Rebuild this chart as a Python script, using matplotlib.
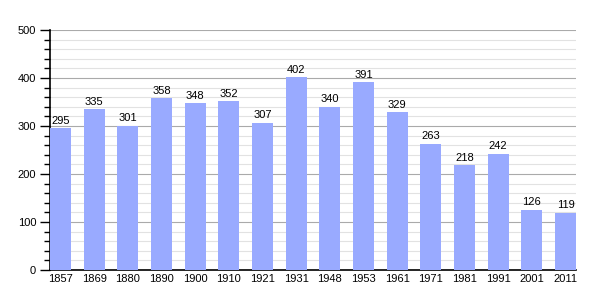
import matplotlib
matplotlib.use("Agg")
import matplotlib.pyplot as plt
from matplotlib.ticker import MultipleLocator

years = ["1857", "1869", "1880", "1890", "1900", "1910", "1921", "1931",
         "1948", "1953", "1961", "1971", "1981", "1991", "2001", "2011"]
values = [295, 335, 301, 358, 348, 352, 307, 402, 340, 391, 329, 263, 218, 242, 126, 119]

plt.rcParams['font.family'] = ['Liberation Sans', 'DejaVu Sans']

fig = plt.figure(figsize=(6.05, 3.0), dpi=100)
ax = fig.add_axes([50/605, 30/300, 526/605, 240/300])

w = 0.624
x = list(range(len(years)))
ax.bar(x, values, width=w, color="#99aaff", zorder=3)
for xi, v in zip(x, values):
    ax.text(xi, v + 5, str(v), ha="center", va="bottom", fontsize=8, zorder=4)

ax.set_xlim(-w/2, len(years) - 1 + w/2)
ax.set_ylim(0, 500)
ax.set_xticks(x)
ax.set_xticklabels(years, fontsize=8)
ax.tick_params(axis="x", length=0, pad=3)
ax.yaxis.set_major_locator(MultipleLocator(100))
ax.yaxis.set_minor_locator(MultipleLocator(20))
ax.tick_params(axis="y", which="major", length=7, width=1, labelsize=8, pad=3)
ax.tick_params(axis="y", which="minor", length=4, width=1)
ax.grid(axis="y", which="major", color="#aaaaaa", linewidth=0.8, zorder=1)
ax.grid(axis="y", which="minor", color="#e2e2e2", linewidth=0.8, zorder=1)
for s in ["top", "right"]:
    ax.spines[s].set_visible(False)
ax.spines["left"].set_linewidth(1.2)
ax.spines["bottom"].set_linewidth(1.2)

fig.savefig("out.png", dpi=100)
